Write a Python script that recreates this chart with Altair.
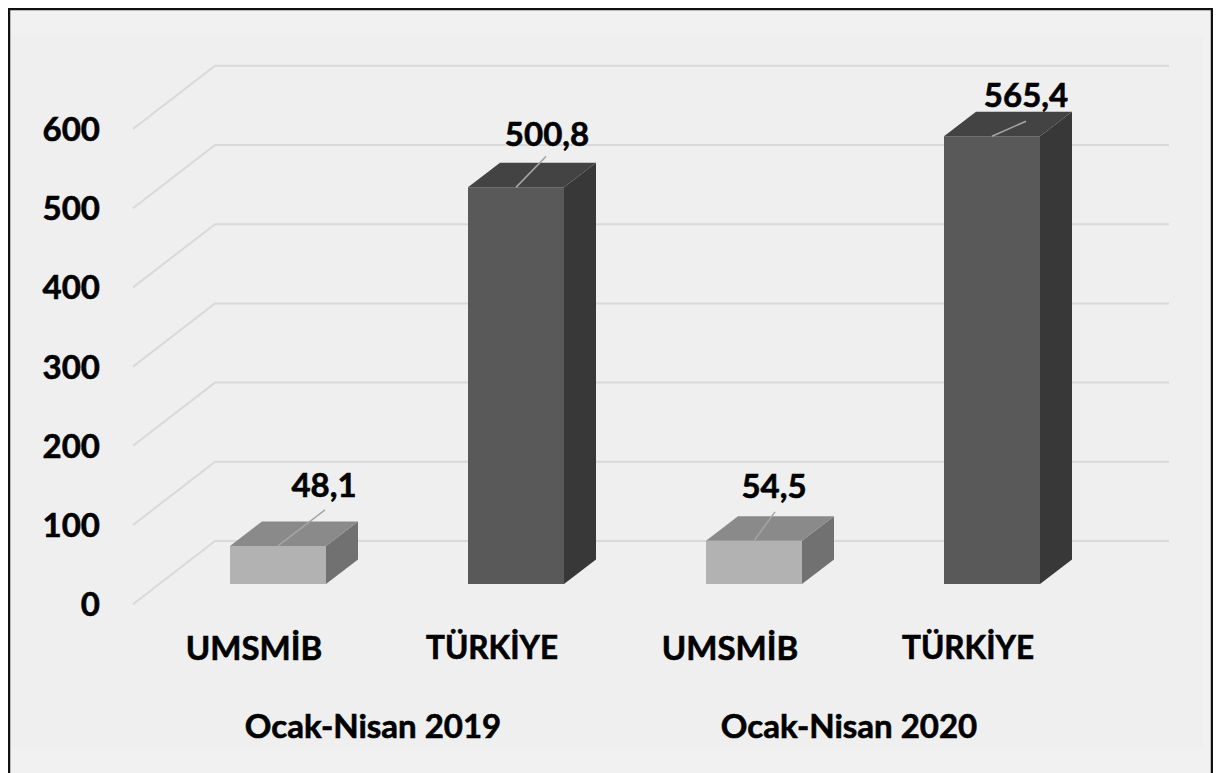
import altair as alt
import pandas as pd

# ---- data
categories = ["UMSMİB", "TÜRKİYE", "UMSMİB", "TÜRKİYE"]
values = [48.1, 500.8, 54.5, 565.4]
value_labels = ["48,1", "500,8", "54,5", "565,4"]
periods = ["Ocak-Nisan 2019", "Ocak-Nisan 2020"]
ticks = [0, 100, 200, 300, 400, 500, 600]

# ---- layout (page pixels -> scale units)
W, H = 1205, 765
PX_PER_UNIT = 0.792
SLOT = 238.0
C0 = 278.0          # page x of first bar centre
BASE = 584.0        # page y of value 0 on the bar's front
FONT = "Lato"


def sx(px):
    return (px - C0) / SLOT


def vy(py):
    return (BASE - py) / PX_PER_UNIT


x_scale = alt.Scale(domain=[sx(8), sx(8 + W)], range=[0, W], nice=False, zero=False)
y_scale = alt.Scale(domain=[vy(8 + H), vy(8)], range=[H, 0], nice=False, zero=False)
X = lambda f: alt.X(f, type="quantitative", scale=x_scale, axis=None)
Y = lambda f: alt.Y(f, type="quantitative", scale=y_scale, axis=None, stack=None)

half = 48 / SLOT
dx = 32 / SLOT
depth = 24.5 / PX_PER_UNIT
wall = (BASE - 541) / PX_PER_UNIT
floor_front = -25.5

front_col = ["#b2b2b2", "#595959", "#b2b2b2", "#595959"]
top_col = ["#8a8a8a", "#434343", "#8a8a8a", "#434343"]
side_col = ["#717171", "#383838", "#717171", "#383838"]
label_off = [(46, 61), (31, 53), (20, 55), (34, 41)]
leader_off = [(47, 36), (30, 31), (21, 29), (34, 15)]
cat_sizes = [33, 31.5, 33, 31.5]

# panel
panel = alt.Chart(pd.DataFrame({"x": [sx(9)], "x2": [sx(1203)], "y": [vy(35)], "y2": [vy(748)]})).mark_rect(
    color="#efefef").encode(x=X("x"), x2="x2", y=Y("y"), y2="y2")

# grid
grid_rows = []
for t in ticks:
    for x, y in [(sx(133), t + floor_front), (sx(215), t + wall), (sx(1169), t + wall)]:
        grid_rows.append({"tick": t, "x": x, "y": y})
grid = alt.Chart(pd.DataFrame(grid_rows)).mark_line(color="#d9d9d9", strokeWidth=2).encode(
    x=X("x"), y=Y("y"), detail="tick:N")

# bars
front_rows, side_rows, top_rows = [], [], []
for i, v in enumerate(values):
    front_rows.append({"bar": i, "x": i - half, "x2": i + half, "y": v, "y2": 0, "c": front_col[i]})
    r = i + half
    side_rows += [
        {"bar": i, "x": r, "y": v, "y2": 0, "c": side_col[i]},
        {"bar": i, "x": r + dx, "y": v + depth, "y2": depth, "c": side_col[i]},
    ]
    top_rows += [
        {"bar": i, "y": v, "x": i - half, "x2": i + half, "c": top_col[i]},
        {"bar": i, "y": v + depth, "x": i - half + dx, "x2": i + half + dx, "c": top_col[i]},
    ]

col = alt.Color("c:N", scale=None)
front = alt.Chart(pd.DataFrame(front_rows)).mark_rect().encode(
    x=X("x"), x2="x2", y=Y("y"), y2="y2", color=col)
side = alt.Chart(pd.DataFrame(side_rows)).mark_area(opacity=1).encode(
    x=X("x"), y=Y("y"), y2="y2", color=col, detail="bar:N")
top = alt.Chart(pd.DataFrame(top_rows)).mark_area(opacity=1, orient="horizontal").encode(
    y=Y("y"), x=alt.X("x:Q", scale=x_scale, axis=None, stack=None), x2="x2", color=col, detail="bar:N")

# leader lines
leader_rows = []
for i, v in enumerate(values):
    leader_rows.append({"bar": i, "x": float(i), "y": v})
    leader_rows.append({"bar": i, "x": i + leader_off[i][0] / SLOT, "y": v + leader_off[i][1] / PX_PER_UNIT})
leaders = alt.Chart(pd.DataFrame(leader_rows)).mark_line(color="#a6a6a6", strokeWidth=1.5).encode(
    x=X("x"), y=Y("y"), detail="bar:N")

# texts
txt = dict(font=FONT, fontWeight="bold", fontSize=33, color="#000000", baseline="middle",
           stroke="#000000", strokeWidth=0.6, dy=2)
val_df = pd.DataFrame({
    "x": [i + label_off[i][0] / SLOT for i in range(4)],
    "y": [values[i] + label_off[i][1] / PX_PER_UNIT for i in range(4)],
    "t": value_labels,
})
val_text = alt.Chart(val_df).mark_text(align="center", **txt).encode(x=X("x"), y=Y("y"), text="t:N")

tick_df = pd.DataFrame({"x": [sx(100)] * len(ticks), "y": [t + floor_front for t in ticks],
                        "t": [str(t) for t in ticks]})
tick_text = alt.Chart(tick_df).mark_text(align="right", **txt).encode(x=X("x"), y=Y("y"), text="t:N")

cat_df = pd.DataFrame({"x": [i - 24 / SLOT for i in range(4)], "y": [vy(648)] * 4, "t": categories, "fs": cat_sizes})
cat_text = alt.Chart(cat_df).mark_text(align="center", **txt).encode(
    x=X("x"), y=Y("y"), text="t:N", size=alt.Size("fs:Q", scale=None))

per_df = pd.DataFrame({"x": [0.5 - 24 / SLOT, 2.5 - 24 / SLOT], "y": [vy(726)] * 2, "t": periods})
per_text = alt.Chart(per_df).mark_text(align="center", **txt).encode(x=X("x"), y=Y("y"), text="t:N")

# frame (left, top, right; runs past the bottom of the window)
frame = alt.Chart(pd.DataFrame({"x": [sx(9), sx(9), sx(1212), sx(1212)],
                                "y": [vy(773), vy(9), vy(9), vy(773)], "o": [0, 1, 2, 3]})).mark_line(
    color="#111111", strokeWidth=2.5).encode(x=X("x"), y=Y("y"), order="o:Q")

chart = alt.layer(panel, grid, front, side, top, leaders, val_text, tick_text, cat_text, per_text, frame).properties(
    width=W, height=H, padding=0, background="#f1f1f1",
    autosize=alt.AutoSizeParams(type="none"),
).configure_view(stroke=None)

chart.save("out.html", embed_options={"renderer": "svg", "actions": False})
